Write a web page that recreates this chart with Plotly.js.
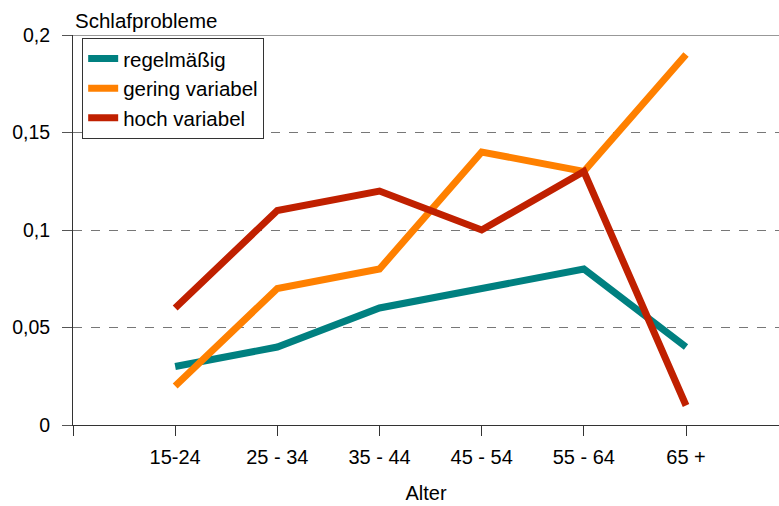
<!DOCTYPE html>
<html>
<head>
<meta charset="utf-8">
<script src="https://cdn.plot.ly/plotly-3.0.1.min.js"></script>
<style>html,body{margin:0;padding:0;background:#fff;}#chart{width:779px;height:506px;}</style>
</head>
<body>
<div id="chart"></div>
<script>
const categories = ["15-24", "25 - 34", "35 - 44", "45 - 54", "55 - 64", "65 +"];
const regelmaessig = [0.03, 0.04, 0.06, 0.07, 0.08, 0.04];
const geringVariabel = [0.02, 0.07, 0.08, 0.14, 0.13, 0.19];
const hochVariabel = [0.06, 0.11, 0.12, 0.10, 0.13, 0.01];
const seriesNames = ["regelmäßig", "gering variabel", "hoch variabel"];
const yTickVals = [0, 0.05, 0.1, 0.15, 0.2];
const yTickText = ["0", "0,05", "0,1", "0,15", "0,2"];

const xIdx = categories.map((_, i) => i);
const FONT = "Liberation Sans, Arial, sans-serif";

function trace(name, y, color) {
  return { x: xIdx, y: y, name: name, type: "scatter", mode: "lines",
    line: { color: color, width: 7 } };
}

const data = [
  trace(seriesNames[0], regelmaessig, "#008080"),
  trace(seriesNames[1], geringVariabel, "#ff8000"),
  trace(seriesNames[2], hochVariabel, "#c02000")
];

const layout = {
  width: 779, height: 506,
  margin: { l: 73, r: 0, t: 35, b: 81 },
  paper_bgcolor: "#fff", plot_bgcolor: "#fff",
  font: { family: FONT, size: 20, color: "#000" },
  showlegend: true,
  legend: {
    x: 0.013, y: 0.993, xanchor: "left", yanchor: "top",
    bordercolor: "#333", borderwidth: 1, bgcolor: "#fff",
    font: { family: FONT, size: 20.5, color: "#000" },
    itemwidth: 30
  },
  xaxis: {
    range: [-1, 5.91],
    tickmode: "array",
    tickvals: [-1].concat(xIdx),
    ticktext: [""].concat(categories),
    ticks: "outside", ticklen: 10, tickcolor: "#333", tickwidth: 1,
    showline: true, linecolor: "#333", linewidth: 1,
    showgrid: false, zeroline: false,
    ticklabelstandoff: 4,
    tickfont: { family: FONT, size: 20 },
    title: { text: "Alter", font: { family: FONT, size: 20 }, standoff: 18 }
  },
  yaxis: {
    range: [0, 0.2],
    tickmode: "array", tickvals: yTickVals, ticktext: yTickText,
    ticks: "outside", ticklen: 10, tickcolor: "#555", tickwidth: 1,
    showline: true, linecolor: "#333", linewidth: 1,
    showgrid: true, gridcolor: "#777", griddash: "dash", gridwidth: 1,
    zeroline: false,
    ticklabelstandoff: 8,
    tickfont: { family: FONT, size: 19.5 }
  },
  shapes: [
    { type: "line", xref: "paper", yref: "y", x0: 0, x1: 1, y0: 0.2, y1: 0.2,
      line: { color: "#333", width: 1 } }
  ],
  annotations: [
    { text: "Schlafprobleme", xref: "paper", yref: "paper", x: 0, y: 1,
      xanchor: "left", yanchor: "bottom", yshift: 1, showarrow: false,
      font: { family: FONT, size: 20.5 } }
  ]
};

Plotly.newPlot("chart", data, layout, { displayModeBar: false, staticPlot: true });
</script>
</body>
</html>
